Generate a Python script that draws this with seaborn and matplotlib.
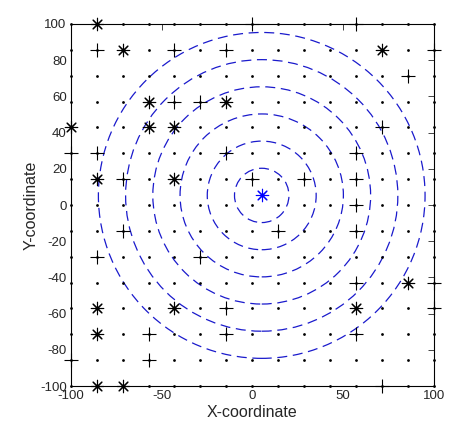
import numpy as np
import pandas as pd
import matplotlib
matplotlib.use("Agg")
import matplotlib.pyplot as plt
from matplotlib.patches import Circle
import seaborn as sns

# ---------------------------
# Data
# ---------------------------

grid = [-100, -85.7, -71.4, -57.1, -42.9, -28.6, -14.3, 0,
        14.3, 28.6, 42.9, 57.1, 71.4, 85.7, 100]

plus_x = [0, 57.1,
          -85.7, -42.9, -14.3, 100,
          85.7,
          -42.9, -28.6,
          71.4,
          -100, -85.7, -14.3, 57.1,
          -71.4, 0, 28.6, 57.1,
          57.1,
          -71.4, 14.3, 57.1,
          -85.7, -28.6,
          57.1, 100,
          -14.3, 100,
          -57.1, -14.3, 57.1,
          -100, -57.1,
          71.4]
plus_y = [100, 100,
          85.7, 85.7, 85.7, 85.7,
          71.4,
          57.1, 57.1,
          42.9,
          28.6, 28.6, 28.6, 28.6,
          14.3, 14.3, 14.3, 14.3,
          0,
          -14.3, -14.3, -14.3,
          -28.6, -28.6,
          -42.9, -42.9,
          -57.1, -57.1,
          -71.4, -71.4, -71.4,
          -85.7, -85.7,
          -100]

star_x = [-85.7,
          -71.4, 71.4,
          -57.1, -14.3,
          -100, -57.1, -42.9,
          -85.7, -42.9,
          85.7,
          -85.7, -42.9, 57.1,
          -85.7,
          -85.7, -71.4]
star_y = [100,
          85.7, 85.7,
          57.1, 57.1,
          42.9, 42.9, 42.9,
          14.3, 14.3,
          -42.9,
          -57.1, -57.1, -57.1,
          -71.4,
          -100, -100]

center = (5.2, 5.3)
radii = [15, 30, 45, 60, 75, 90]

gx, gy = np.meshgrid(grid, grid)
dots = pd.DataFrame({"x": gx.ravel(), "y": gy.ravel()})
plus = pd.DataFrame({"x": plus_x, "y": plus_y})
star = pd.DataFrame({"x": star_x, "y": star_y})

# ---------------------------
# Plot
# ---------------------------

sns.set_style("white")
plt.rcParams["font.family"] = ["Liberation Sans", "DejaVu Sans"]
plt.rcParams["axes.unicode_minus"] = False

fig = plt.figure(figsize=(4.72, 4.28), dpi=100)
ax = fig.add_axes([0.150, 0.098, 0.769, 0.846])

sns.scatterplot(data=dots, x="x", y="y", ax=ax, color="black", s=4,
                linewidth=0, zorder=2, clip_on=False)
sns.scatterplot(data=plus, x="x", y="y", ax=ax, marker="+", color="black",
                s=110, linewidth=0.8, zorder=3, clip_on=False)
sns.scatterplot(data=star, x="x", y="y", ax=ax, marker=(8, 2, 0),
                color="black", s=80, linewidth=0.8, zorder=3, clip_on=False)
sns.scatterplot(x=[center[0]], y=[center[1]], ax=ax, marker=(8, 2, 0),
                color="blue", s=80, linewidth=0.8, zorder=3)

for r in radii:
    ax.add_patch(Circle(center, r, fill=False, edgecolor="#1a1acc",
                        linestyle=(0, (8, 4.5)), linewidth=0.9, zorder=1))

ax.set_xlim(-100, 100)
ax.set_ylim(-100, 100)
ax.set_xticks([-100, -50, 0, 50, 100])
ax.set_yticks(range(-100, 101, 20))
ax.tick_params(direction="in", top=True, right=True, length=4,
               width=0.6, labelsize=9.5, pad=3)
for s in ax.spines.values():
    s.set_linewidth(0.8)
    s.set_color("black")
ax.set_xlabel("X-coordinate", fontsize=11.5, labelpad=2)
ax.set_ylabel("Y-coordinate", fontsize=11.5, labelpad=1)

fig.savefig("out.png", dpi=100)
